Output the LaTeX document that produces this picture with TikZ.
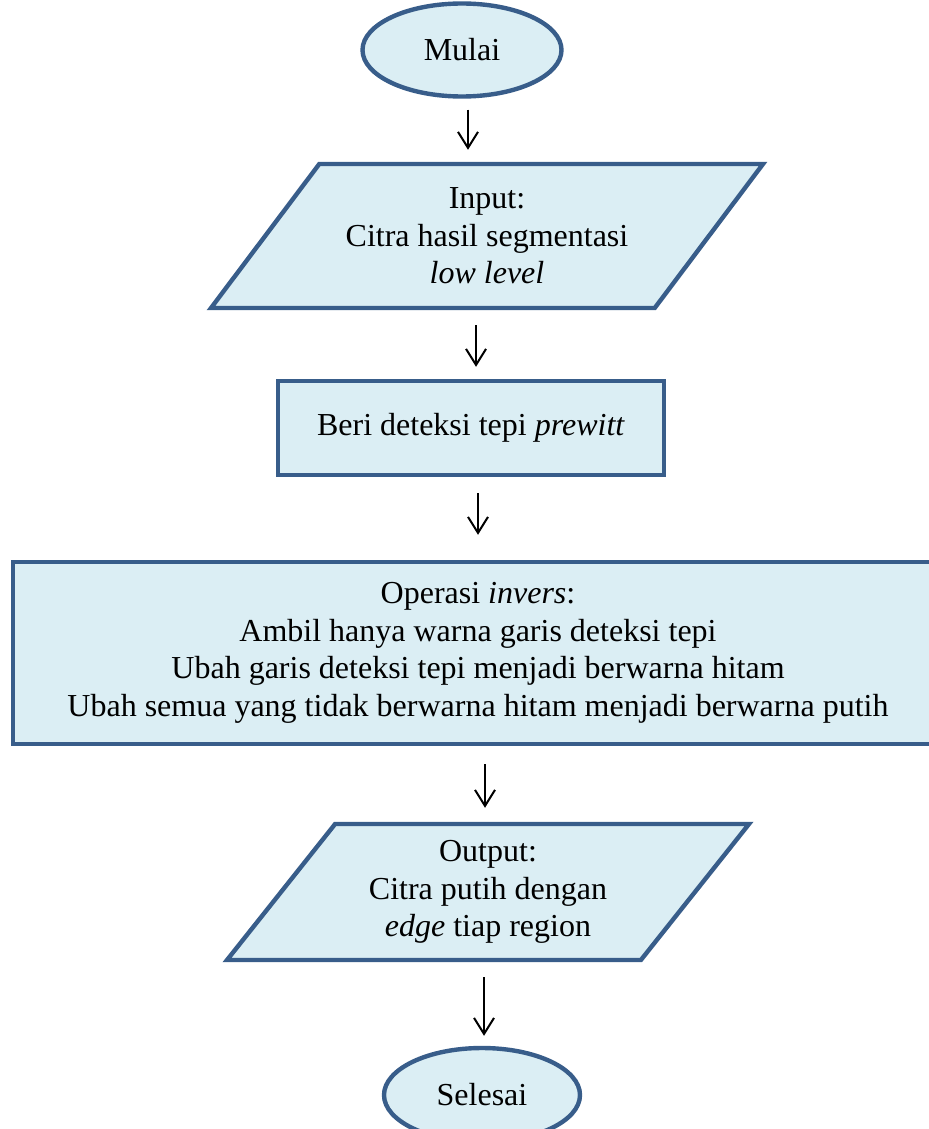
\documentclass[tikz,border=0pt]{standalone}
\usepackage{fontspec}
\setmainfont{Liberation Serif}
\usetikzlibrary{shapes.geometric,arrows.meta,positioning,calc}

\definecolor{boxline}{RGB}{56,93,138}
\definecolor{boxfill}{RGB}{219,238,244}

\begin{document}
\begin{tikzpicture}[x=0.5pt, y=-0.5pt,
    every node/.style={font=\fontsize{16}{18.8}\selectfont, align=center},
    terminal/.style={ellipse, draw=boxline, fill=boxfill, line width=2.2pt, inner sep=0pt},
    process/.style={rectangle, draw=boxline, fill=boxfill, line width=2.2pt, inner sep=0pt},
    inout/.style={trapezium, trapezium stretches body, draw=boxline, fill=boxfill,
        line width=2.2pt, inner sep=0pt},
    flow/.style={line width=1pt, -{Straight Barb[length=8pt,width=10pt,line width=1pt]}}]
                \useasboundingbox (0,0) rectangle (929,1129);

                % Start
                \node[terminal, minimum width=99.5pt, minimum height=46.5pt] (mulai) at (462,50) {Mulai};

                % Input
                \node[inout, trapezium left angle=41.7, trapezium right angle=138.3,
                      minimum width=276pt, minimum height=72pt] (input) at (487,236)
                    {Input:\\Citra hasil segmentasi\\\textit{low level}};

                % Edge detection
                \node[process, minimum width=193pt, minimum height=47pt] (beri) at (471,428)
                    {Beri deteksi tepi \textit{prewitt}};

                % Inverse operation
                \node[process, minimum width=465pt, minimum height=91pt] (operasi) at (478,653)
                    {Operasi \textit{invers}:\\Ambil hanya warna garis deteksi tepi\\
                     Ubah garis deteksi tepi menjadi berwarna hitam\\
                     Ubah semua yang tidak berwarna hitam menjadi berwarna putih};

                % Output
                \node[inout, trapezium left angle=43.7, trapezium right angle=136.3,
                      minimum width=261pt, minimum height=68pt] (output) at (488,892)
                    {Output:\\Citra putih dengan\\\textit{edge} tiap region};

                % End
                \node[terminal, minimum width=98pt, minimum height=47pt] (selesai) at (482,1095) {Selesai};

                % Arrows
                \draw[flow, shorten >=6pt] (mulai.south) ++(6,11) coordinate (a1) -- (a1 |- input.north);
                \draw[flow, shorten >=6pt] (input.south) ++(-11,15) coordinate (a2) -- (a2 |- beri.north);
                \draw[flow, shorten >=12.5pt] (beri.south) ++(7,16) coordinate (a3) -- (a3 |- operasi.north);
                \draw[flow, shorten >=7pt] (operasi.south) ++(7,18) coordinate (a4) -- (a4 |- output.north);
                \draw[flow, shorten >=5pt] (output.south) ++(-4,15) coordinate (a5) -- (a5 |- selesai.north);
            \end{tikzpicture}
\end{document}
